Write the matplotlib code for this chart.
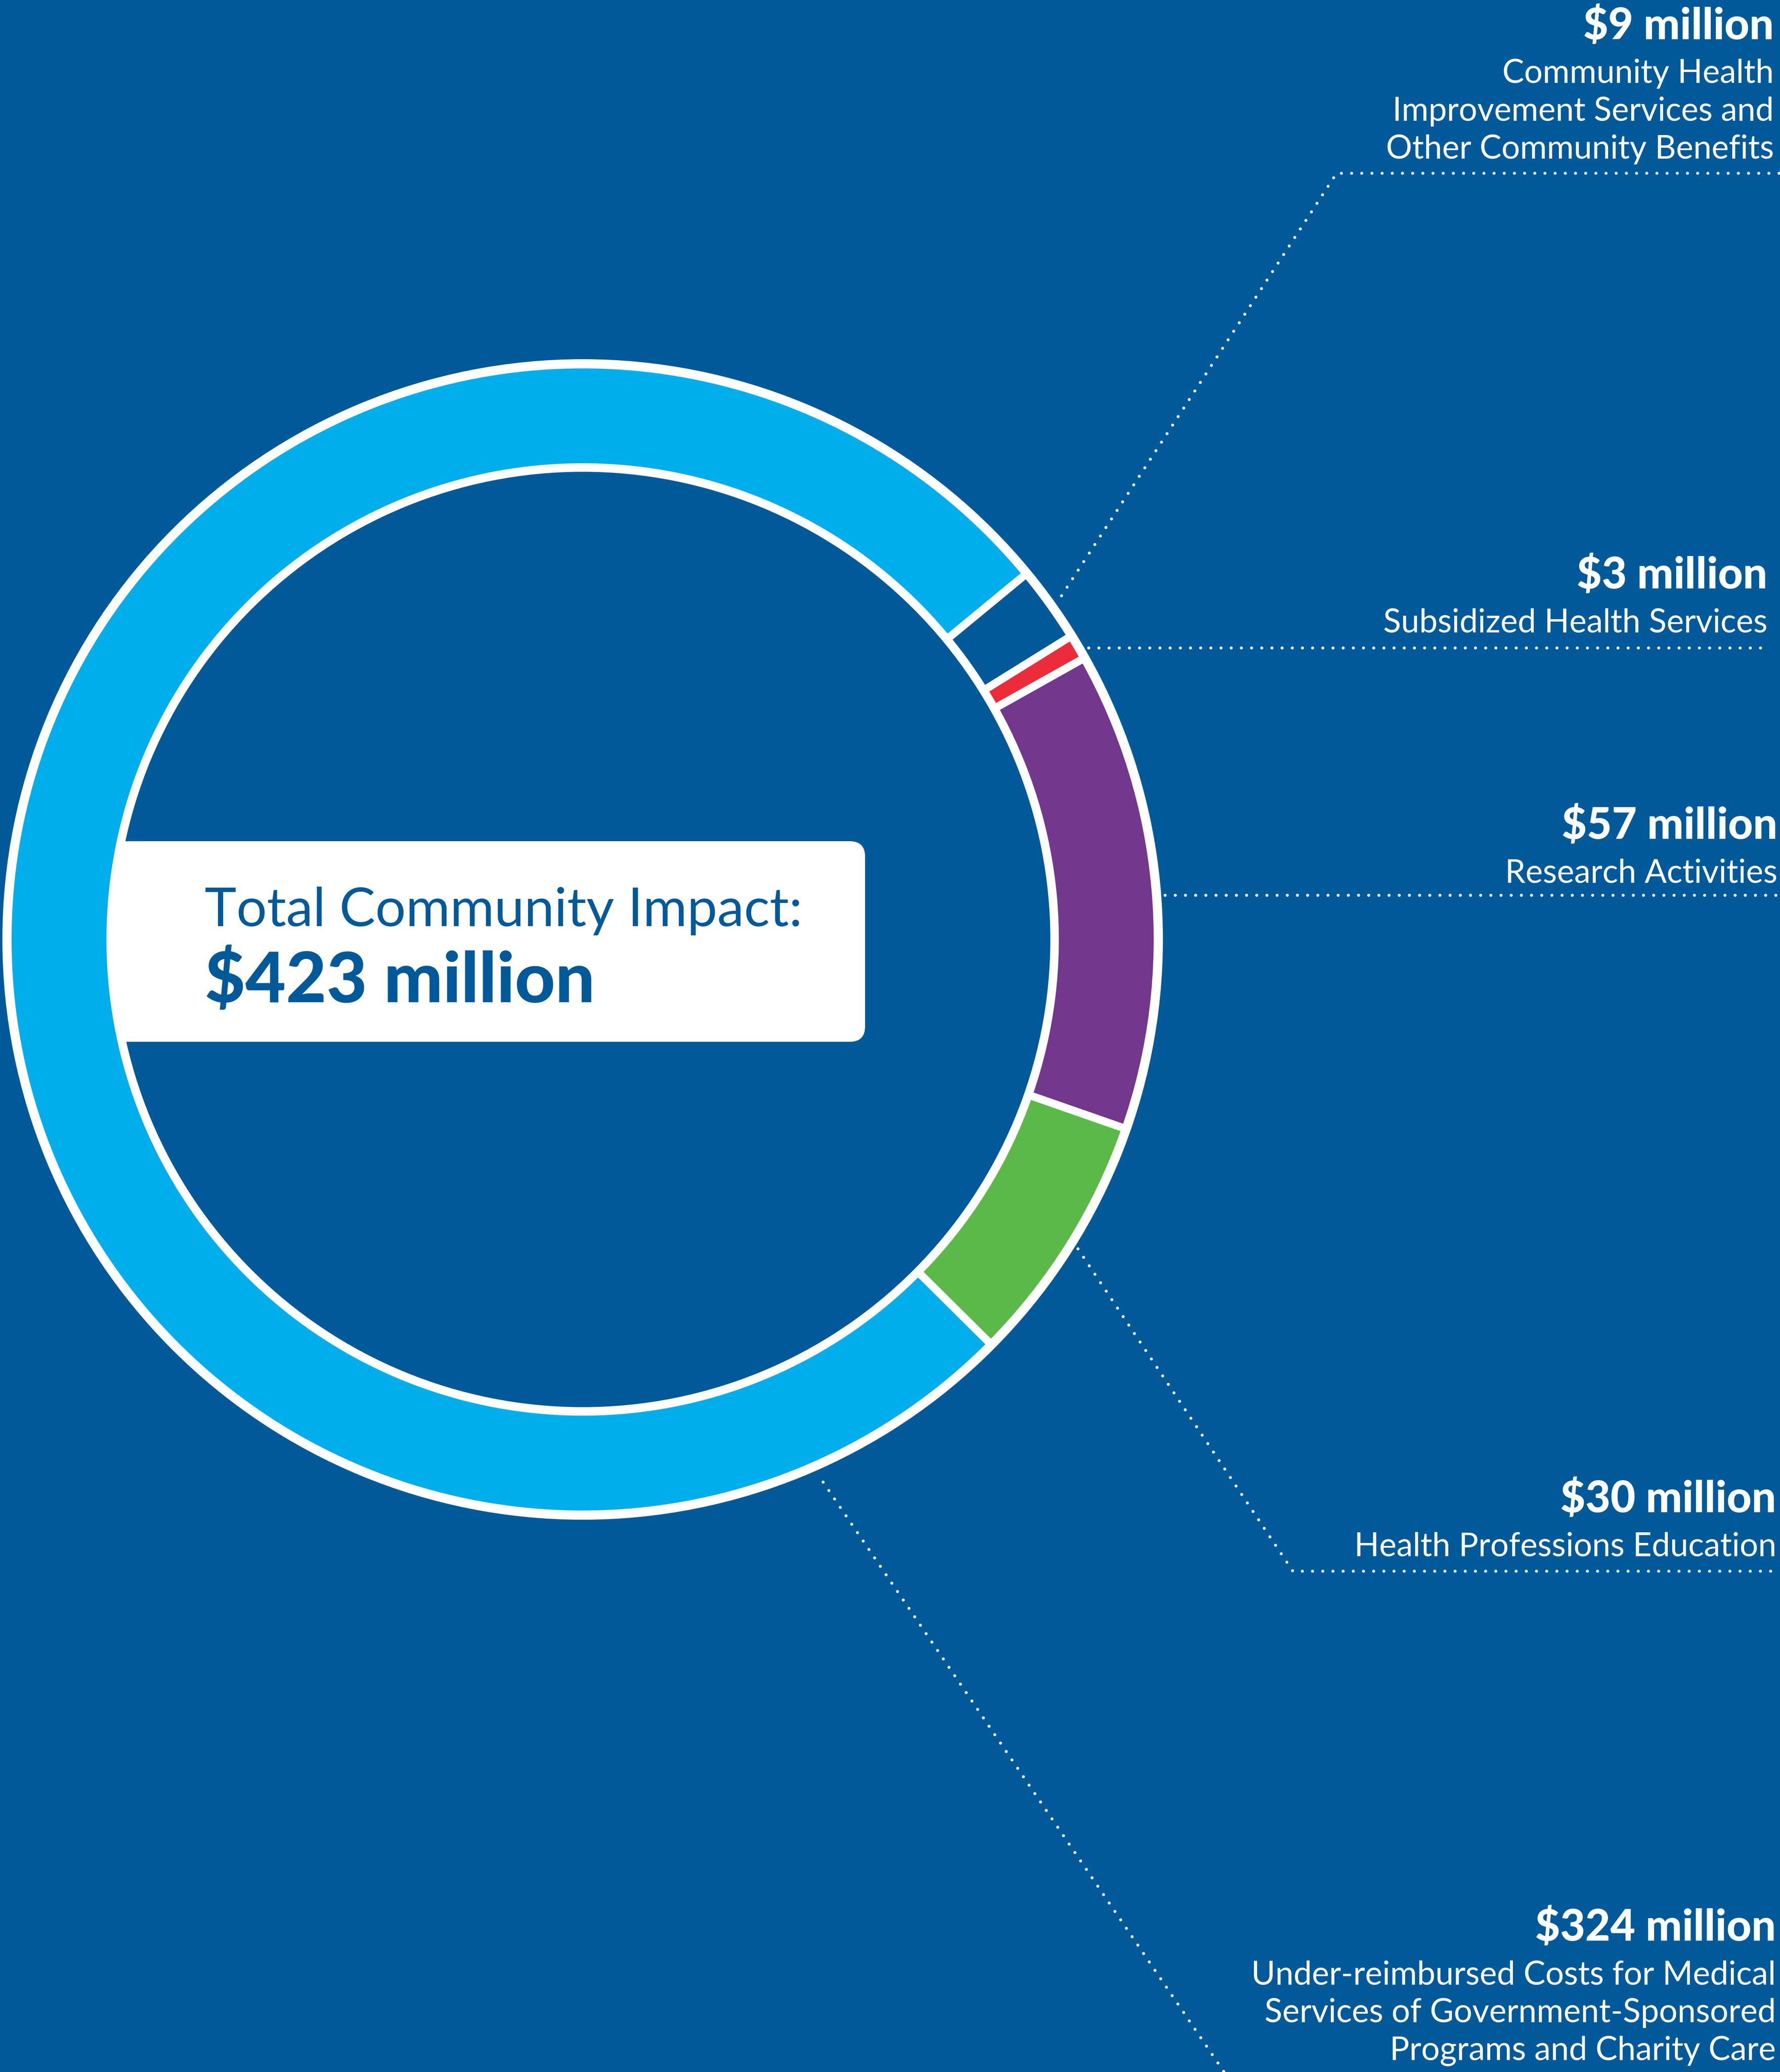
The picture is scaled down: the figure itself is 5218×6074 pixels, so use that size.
import numpy as np
import matplotlib
matplotlib.use('Agg')
import matplotlib.pyplot as plt
from matplotlib.patches import FancyBboxPatch

# ---- data -------------------------------------------------------------
amounts = [9, 3, 57, 30, 324]
value_labels = ['$9 million', '$3 million', '$57 million', '$30 million', '$324 million']
descriptions = [
    ['Community Health', 'Improvement Services and', 'Other Community Benefits'],
    ['Subsidized Health Services'],
    ['Research Activities'],
    ['Health Professions Education'],
    ['Under-reimbursed Costs for Medical', 'Services of Government-Sponsored',
     'Programs and Charity Care'],
]
total_label = 'Total Community Impact:'
total_value = '$423 million'

# ---- style ------------------------------------------------------------
BG = '#005A9A'
seg_colors = [BG, '#EC2C3B', '#74378E', '#5BBA47', '#00AEEB']
FONT = ['Lato', 'Liberation Sans', 'DejaVu Sans']

W, H = 5218, 6074
PT = 0.72  # points per pixel at dpi 100

fig = plt.figure(figsize=(W / 100, H / 100), dpi=100, facecolor=BG)
ax = fig.add_axes([0, 0, 1, 1])
ax.set_facecolor(BG)

# ring geometry (image pixels, y axis inverted below)
cx, cy = 1708, 2754
r_out = 1701
band_out, band_in = 1674, 1396
gap = 23

# white base ring
ax.pie([1], radius=r_out, center=(cx, cy), colors=['white'],
       wedgeprops=dict(width=r_out - 1371, linewidth=0, zorder=2))
# y is inverted, so counterclock in data runs clockwise on screen
wedges, _ = ax.pie(amounts, radius=band_out + gap / 2, center=(cx, cy),
                   colors=seg_colors, startangle=-39.5, counterclock=True,
                   wedgeprops=dict(width=band_out - band_in + gap,
                                   edgecolor='white', linewidth=gap * PT,
                                   zorder=3))

ax.set_xlim(0, W)
ax.set_ylim(H, 0)
ax.set_aspect('equal')
ax.axis('off')

# centre box
box = FancyBboxPatch((300, 2466), 2236, 588,
                     boxstyle='round,pad=0,rounding_size=45',
                     facecolor='white', edgecolor='none', zorder=1)
ax.add_patch(box)
t_total = ax.text(600, 2715, total_label, ha='left', va='baseline', color=BG,
                  fontsize=130, family=FONT, fontweight='normal', zorder=4)
t_value = ax.text(600, 2938, total_value, ha='left', va='baseline', color=BG,
                  fontsize=170, family=FONT, fontweight='black', zorder=4)

# ---- labels -----------------------------------------------------------
label_top = [115, 1725, 2459, 4433, 5689]     # baseline of value line
label_right = [5200, 5181, 5210, 5207, 5206]
value_texts, desc_texts = [], []
for lab, desc, y0, xr in zip(value_labels, descriptions, label_top, label_right):
    value_texts.append(ax.text(xr, y0, lab, ha='right', va='baseline',
                               color='white', fontsize=100, family=FONT,
                               fontweight='black'))
    for k, line in enumerate(desc):
        desc_texts.append(ax.text(xr, y0 + 128 + 111 * k, line, ha='right',
                                  va='baseline', color='white', fontsize=80,
                                  family=FONT, fontweight='normal'))

# scale font sizes so that text widths match the original artwork
fig.canvas.draw()
renderer = fig.canvas.get_renderer()

def fit(texts, ref, width):
    k = width / ref.get_window_extent(renderer).width
    for t in texts:
        t.set_fontsize(t.get_fontsize() * k)

fit([t_total], t_total, 1753)
fit([t_value], t_value, 1144)
fit(value_texts, value_texts[-1], 705)
fit(desc_texts, desc_texts[-3], 1540)

# ---- dotted leaders ---------------------------------------------------
def ring_point(theta, r):
    t = np.deg2rad(theta)
    return cx + r * np.cos(t), cy + r * np.sin(t)

def mid_angle(w):
    return (w.theta1 + w.theta2) / 2

def horiz_start(y, r):
    return cx + np.sqrt(r ** 2 - (y - cy) ** 2)

leaders = []
p = ring_point(mid_angle(wedges[0]), 1728)
leaders.append([p, (3918, 508), (W, 508)])
leaders.append([(horiz_start(1899, 1712), 1899), (5183, 1899)])
leaders.append([(horiz_start(2624, 1712), 2624), (W, 2624)])
p = ring_point(mid_angle(wedges[3]), 1712)
leaders.append([p, (3790, 4606), (W, 4606)])
p = ring_point(66.1, 1740)
leaders.append([p, (3640, 6150)])

for pts in leaders:
    xs, ys = zip(*pts)
    ax.plot(xs, ys, color='white', lw=6.3, linestyle=(0, (0.01, 3.4)),
            dash_capstyle='round', solid_capstyle='round', zorder=2)

ax.set_xlim(0, W)
ax.set_ylim(H, 0)

fig.savefig('out.png', dpi=100, facecolor=BG)
